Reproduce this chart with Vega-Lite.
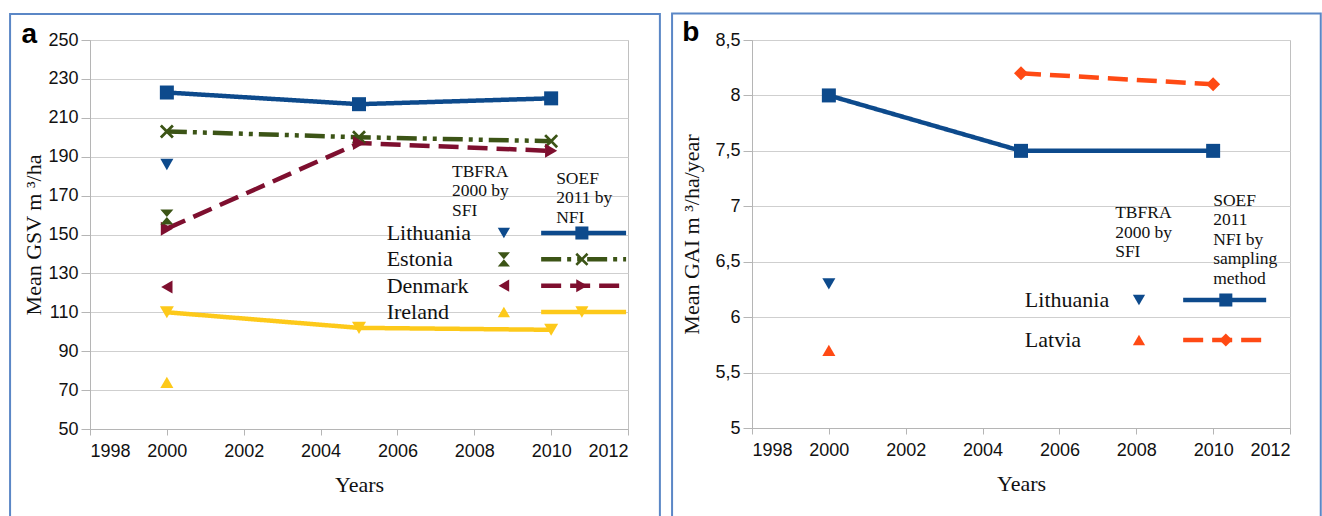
{
  "$schema": "https://vega.github.io/schema/vega-lite/v6.json",
  "background": "white",
  "padding": {"left": 8, "top": 11, "right": 0, "bottom": 0},
  "spacing": 124,
  "bounds": "flush",
  "resolve": {"scale": {"color": "independent", "strokeDash": "independent", "shape": "independent"}},
  "config": {
    "view": {"stroke": "#c0c0c0", "strokeWidth": 1},
    "axis": {
      "labelFont": "Liberation Sans", "labelFontSize": 18, "labelColor": "#111111", "labelOverlap": false,
      "titleFont": "Liberation Serif", "titleFontSize": 22, "titleFontWeight": "normal", "titleColor": "#111111",
      "domainColor": "#b5b5b5", "tickColor": "#b5b5b5", "gridColor": "#cfcfcf"
    }
  },
  "datasets": {
    "gsv": [
      {"country": "Lithuania", "source": "TBFRA", "series": "Lithuania TBFRA", "year": 2000, "value": 186},
      {"country": "Lithuania", "source": "SOEF", "series": "Lithuania SOEF", "year": 2000, "value": 223},
      {"country": "Lithuania", "source": "SOEF", "series": "Lithuania SOEF", "year": 2005, "value": 217},
      {"country": "Lithuania", "source": "SOEF", "series": "Lithuania SOEF", "year": 2010, "value": 220},
      {"country": "Estonia", "source": "TBFRA", "series": "Estonia TBFRA", "year": 2000, "value": 159},
      {"country": "Estonia", "source": "SOEF", "series": "Estonia SOEF", "year": 2000, "value": 203},
      {"country": "Estonia", "source": "SOEF", "series": "Estonia SOEF", "year": 2005, "value": 200},
      {"country": "Estonia", "source": "SOEF", "series": "Estonia SOEF", "year": 2010, "value": 198},
      {"country": "Denmark", "source": "TBFRA", "series": "Denmark TBFRA", "year": 2000, "value": 123},
      {"country": "Denmark", "source": "SOEF", "series": "Denmark SOEF", "year": 2000, "value": 153},
      {"country": "Denmark", "source": "SOEF", "series": "Denmark SOEF", "year": 2005, "value": 197},
      {"country": "Denmark", "source": "SOEF", "series": "Denmark SOEF", "year": 2010, "value": 193},
      {"country": "Ireland", "source": "TBFRA", "series": "Ireland TBFRA", "year": 2000, "value": 74},
      {"country": "Ireland", "source": "SOEF", "series": "Ireland SOEF", "year": 2000, "value": 110},
      {"country": "Ireland", "source": "SOEF", "series": "Ireland SOEF", "year": 2005, "value": 102},
      {"country": "Ireland", "source": "SOEF", "series": "Ireland SOEF", "year": 2010, "value": 101}
    ],
    "gai": [
      {"country": "Lithuania", "source": "TBFRA", "series": "Lithuania TBFRA", "year": 2000, "value": 6.3},
      {"country": "Lithuania", "source": "SOEF", "series": "Lithuania SOEF", "year": 2000, "value": 8.0},
      {"country": "Lithuania", "source": "SOEF", "series": "Lithuania SOEF", "year": 2005, "value": 7.5},
      {"country": "Lithuania", "source": "SOEF", "series": "Lithuania SOEF", "year": 2010, "value": 7.5},
      {"country": "Latvia", "source": "TBFRA", "series": "Latvia TBFRA", "year": 2000, "value": 5.7},
      {"country": "Latvia", "source": "SOEF", "series": "Latvia SOEF", "year": 2005, "value": 8.2},
      {"country": "Latvia", "source": "SOEF", "series": "Latvia SOEF", "year": 2010, "value": 8.1}
    ]
  },
  "hconcat": [
    {
      "width": 538,
      "height": 389,
      "data": {"name": "gsv"},
      "resolve": {"scale": {"y": "independent"}},
      "layer": [
        {
          "layer": [
            {
              "data": {"values": [{}]},
              "mark": {"type": "rect", "fillOpacity": 0, "stroke": "#5b87c6", "strokeWidth": 2, "clip": false},
              "encoding": {
                "x": {"datum": 1995.92, "type": "quantitative"},
                "x2": {"datum": 2012.83},
                "y": {"datum": 263.4, "type": "quantitative"},
                "y2": {"datum": 4}
              }
            },
            {
              "transform": [{"filter": "datum.source === 'SOEF'"}],
              "mark": {"type": "line", "strokeWidth": 4.5},
              "encoding": {
                "x": {"field": "year", "type": "quantitative",
                  "scale": {"domain": [1998, 2012], "nice": false, "zero": false},
                  "axis": {"values": [1998, 2000, 2002, 2004, 2006, 2008, 2010, 2012], "tickCount": 20, "format": "d", "grid": false, "tickSize": 6, "labelPadding": 7, "title": "Years", "titlePadding": 14}},
                "y": {"field": "value", "type": "quantitative",
                  "scale": {"domain": [50, 250], "nice": false, "zero": false},
                  "axis": {"values": [50, 70, 90, 110, 130, 150, 170, 190, 210, 230, 250], "tickCount": 20, "grid": true, "tickSize": 9, "labelPadding": 3, "title": "Mean GSV m ³/ha", "titlePadding": 2}},
                "color": {"field": "country", "type": "nominal", "legend": null,
                  "scale": {"domain": ["Lithuania", "Estonia", "Denmark", "Ireland"], "range": ["#0d4a8c", "#3c5416", "#7e0f2f", "#fdc91a"]}},
                "strokeDash": {"field": "country", "type": "nominal", "legend": null,
                  "scale": {"domain": ["Lithuania", "Estonia", "Denmark", "Ireland"], "range": [[1, 0], [20, 6, 4, 6, 4, 6], [20, 9], [1, 0]]}}
              }
            },
            {
              "transform": [{"filter": "datum.source === 'SOEF'"}],
              "mark": {"type": "point", "filled": true, "opacity": 1, "size": 196},
              "encoding": {
                "x": {"field": "year", "type": "quantitative"},
                "y": {"field": "value", "type": "quantitative"},
                "color": {"field": "country", "type": "nominal", "legend": null},
                "shape": {"field": "series", "type": "nominal", "legend": null,
                  "scale": {"domain": ["Lithuania TBFRA", "Lithuania SOEF", "Estonia TBFRA", "Estonia SOEF", "Denmark TBFRA", "Denmark SOEF", "Ireland TBFRA", "Ireland SOEF"],
                    "range": ["triangle-down", "square", "M-1,-1.15L1,-1.15L0,0L1,1.15L-1,1.15L0,0Z", "M-1,-0.72L-0.72,-1L0,-0.28L0.72,-1L1,-0.72L0.28,0L1,0.72L0.72,1L0,0.28L-0.72,1L-1,0.72L-0.28,0Z", "triangle-left", "triangle-right", "triangle-up", "triangle-down"]}}
              }
            },
            {
              "transform": [{"filter": "datum.source === 'TBFRA'"}],
              "mark": {"type": "point", "filled": true, "opacity": 1, "size": 170},
              "encoding": {
                "x": {"field": "year", "type": "quantitative"},
                "y": {"field": "value", "type": "quantitative"},
                "color": {"field": "country", "type": "nominal", "legend": null},
                "shape": {"field": "series", "type": "nominal", "legend": null}
              }
            },
            {
              "data": {"values": [{}]},
              "mark": {"type": "text", "font": "Liberation Serif", "fontSize": 17.5, "align": "left", "baseline": "top", "lineBreak": "\n", "lineHeight": 19.5, "color": "#111111", "text": "TBFRA\n2000 by\nSFI"},
              "encoding": {"x": {"datum": 2007.42, "type": "quantitative"}, "y": {"datum": 187, "type": "quantitative"}}
            },
            {
              "data": {"values": [{}]},
              "mark": {"type": "text", "font": "Liberation Serif", "fontSize": 17.5, "align": "left", "baseline": "top", "lineBreak": "\n", "lineHeight": 19.5, "color": "#111111", "text": "SOEF\n2011 by\nNFI"},
              "encoding": {"x": {"datum": 2010.13, "type": "quantitative"}, "y": {"datum": 183.4, "type": "quantitative"}}
            },
            {
              "data": {"values": [{}]},
              "mark": {"type": "text", "font": "Liberation Sans", "fontSize": 28, "fontWeight": "bold", "align": "center", "baseline": "middle", "color": "#000000", "text": "a"},
              "encoding": {"x": {"datum": 1996.42, "type": "quantitative"}, "y": {"datum": 252.5, "type": "quantitative"}}
            }
          ]
        },
        {
          "layer": [
            {
              "transform": [{"filter": "datum.source === 'TBFRA'"}],
              "mark": {"type": "text", "font": "Liberation Serif", "fontSize": 22, "align": "left", "baseline": "middle", "color": "#111111"},
              "encoding": {
                "x": {"datum": 2005.72, "type": "quantitative"},
                "y": {"field": "country", "type": "nominal", "axis": null,
                  "scale": {"type": "point", "domain": ["Lithuania", "Estonia", "Denmark", "Ireland"], "range": [193, 272], "padding": 0}},
                "text": {"field": "country"}
              }
            },
            {
              "transform": [{"filter": "datum.source === 'TBFRA'"}],
              "mark": {"type": "point", "filled": true, "opacity": 1, "size": 150},
              "encoding": {
                "x": {"datum": 2008.77, "type": "quantitative"},
                "y": {"field": "country", "type": "nominal", "axis": null},
                "color": {"field": "country", "type": "nominal", "legend": null},
                "shape": {"field": "series", "type": "nominal", "legend": null}
              }
            },
            {
              "transform": [{"filter": "datum.source === 'SOEF' && datum.year === 2010"}],
              "mark": {"type": "rule", "strokeWidth": 4.5},
              "encoding": {
                "x": {"datum": 2009.74, "type": "quantitative"},
                "x2": {"datum": 2011.95},
                "y": {"field": "country", "type": "nominal", "axis": null},
                "color": {"field": "country", "type": "nominal", "legend": null},
                "strokeDash": {"field": "country", "type": "nominal", "legend": null}
              }
            },
            {
              "transform": [{"filter": "datum.source === 'SOEF' && datum.year === 2010"}],
              "mark": {"type": "point", "filled": true, "opacity": 1, "size": 170},
              "encoding": {
                "x": {"datum": 2010.8, "type": "quantitative"},
                "y": {"field": "country", "type": "nominal", "axis": null},
                "color": {"field": "country", "type": "nominal", "legend": null},
                "shape": {"field": "series", "type": "nominal", "legend": null}
              }
            }
          ]
        }
      ]
    },
    {
      "width": 538,
      "height": 388,
      "data": {"name": "gai"},
      "resolve": {"scale": {"y": "independent"}},
      "layer": [
        {
          "layer": [
            {
              "data": {"values": [{}]},
              "mark": {"type": "rect", "fillOpacity": 0, "stroke": "#5b87c6", "strokeWidth": 2, "clip": false},
              "encoding": {
                "x": {"datum": 1995.92, "type": "quantitative"},
                "x2": {"datum": 2012.8},
                "y": {"datum": 8.74, "type": "quantitative"},
                "y2": {"datum": 4.1}
              }
            },
            {
              "transform": [{"filter": "datum.source === 'SOEF'"}],
              "mark": {"type": "line", "strokeWidth": 4.5},
              "encoding": {
                "x": {"field": "year", "type": "quantitative",
                  "scale": {"domain": [1998, 2012], "nice": false, "zero": false},
                  "axis": {"values": [1998, 2000, 2002, 2004, 2006, 2008, 2010, 2012], "tickCount": 20, "format": "d", "grid": false, "tickSize": 6, "labelPadding": 7, "title": "Years", "titlePadding": 14}},
                "y": {"field": "value", "type": "quantitative",
                  "scale": {"domain": [5, 8.5], "nice": false, "zero": false},
                  "axis": {"values": [5, 5.5, 6, 6.5, 7, 7.5, 8, 8.5], "tickCount": 20, "labelExpr": "replace(toString(datum.value), '.', ',')", "grid": true, "tickSize": 9, "labelPadding": 3, "title": "Mean GAI m ³/ha/year", "titlePadding": 11}},
                "color": {"field": "country", "type": "nominal", "legend": null,
                  "scale": {"domain": ["Lithuania", "Latvia"], "range": ["#0d4a8c", "#ff4a14"]}},
                "strokeDash": {"field": "country", "type": "nominal", "legend": null,
                  "scale": {"domain": ["Lithuania", "Latvia"], "range": [[1, 0], [20, 9]]}}
              }
            },
            {
              "transform": [{"filter": "datum.source === 'SOEF'"}],
              "mark": {"type": "point", "filled": true, "opacity": 1, "size": 196},
              "encoding": {
                "x": {"field": "year", "type": "quantitative"},
                "y": {"field": "value", "type": "quantitative"},
                "color": {"field": "country", "type": "nominal", "legend": null},
                "shape": {"field": "series", "type": "nominal", "legend": null,
                  "scale": {"domain": ["Lithuania TBFRA", "Lithuania SOEF", "Latvia TBFRA", "Latvia SOEF"],
                    "range": ["triangle-down", "square", "triangle-up", "diamond"]}}
              }
            },
            {
              "transform": [{"filter": "datum.source === 'TBFRA'"}],
              "mark": {"type": "point", "filled": true, "opacity": 1, "size": 170},
              "encoding": {
                "x": {"field": "year", "type": "quantitative"},
                "y": {"field": "value", "type": "quantitative"},
                "color": {"field": "country", "type": "nominal", "legend": null},
                "shape": {"field": "series", "type": "nominal", "legend": null}
              }
            },
            {
              "data": {"values": [{}]},
              "mark": {"type": "text", "font": "Liberation Serif", "fontSize": 17.5, "align": "left", "baseline": "top", "lineBreak": "\n", "lineHeight": 19.5, "color": "#111111", "text": "TBFRA\n2000 by\nSFI"},
              "encoding": {"x": {"datum": 2007.45, "type": "quantitative"}, "y": {"datum": 7.02, "type": "quantitative"}}
            },
            {
              "data": {"values": [{}]},
              "mark": {"type": "text", "font": "Liberation Serif", "fontSize": 17.5, "align": "left", "baseline": "top", "lineBreak": "\n", "lineHeight": 19.5, "color": "#111111", "text": "SOEF\n2011\nNFI by\nsampling\nmethod"},
              "encoding": {"x": {"datum": 2010.0, "type": "quantitative"}, "y": {"datum": 7.13, "type": "quantitative"}}
            },
            {
              "data": {"values": [{}]},
              "mark": {"type": "text", "font": "Liberation Sans", "fontSize": 28, "fontWeight": "bold", "align": "center", "baseline": "middle", "color": "#000000", "text": "b"},
              "encoding": {"x": {"datum": 1996.41, "type": "quantitative"}, "y": {"datum": 8.56, "type": "quantitative"}}
            }
          ]
        },
        {
          "layer": [
            {
              "transform": [{"filter": "datum.source === 'TBFRA'"}],
              "mark": {"type": "text", "font": "Liberation Serif", "fontSize": 22, "align": "left", "baseline": "middle", "color": "#111111"},
              "encoding": {
                "x": {"datum": 2005.1, "type": "quantitative"},
                "y": {"field": "country", "type": "nominal", "axis": null,
                  "scale": {"type": "point", "domain": ["Lithuania", "Latvia"], "range": [260, 300], "padding": 0}},
                "text": {"field": "country"}
              }
            },
            {
              "transform": [{"filter": "datum.source === 'TBFRA'"}],
              "mark": {"type": "point", "filled": true, "opacity": 1, "size": 150},
              "encoding": {
                "x": {"datum": 2008.07, "type": "quantitative"},
                "y": {"field": "country", "type": "nominal", "axis": null},
                "color": {"field": "country", "type": "nominal", "legend": null},
                "shape": {"field": "series", "type": "nominal", "legend": null}
              }
            },
            {
              "transform": [{"filter": "datum.source === 'SOEF' && datum.year === 2010"}],
              "mark": {"type": "rule", "strokeWidth": 4.5},
              "encoding": {
                "x": {"datum": 2009.22, "type": "quantitative"},
                "x2": {"datum": 2011.38},
                "y": {"field": "country", "type": "nominal", "axis": null},
                "color": {"field": "country", "type": "nominal", "legend": null},
                "strokeDash": {"field": "country", "type": "nominal", "legend": null}
              }
            },
            {
              "transform": [{"filter": "datum.source === 'SOEF' && datum.year === 2010"}],
              "mark": {"type": "point", "filled": true, "opacity": 1, "size": 170},
              "encoding": {
                "x": {"datum": 2010.33, "type": "quantitative"},
                "y": {"field": "country", "type": "nominal", "axis": null},
                "color": {"field": "country", "type": "nominal", "legend": null},
                "shape": {"field": "series", "type": "nominal", "legend": null}
              }
            }
          ]
        }
      ]
    }
  ]
}
